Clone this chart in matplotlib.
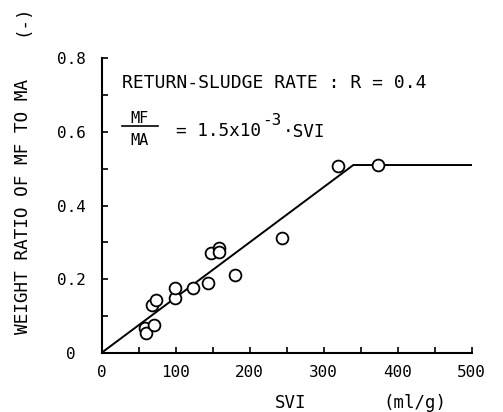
import matplotlib
matplotlib.use('Agg')
import matplotlib.pyplot as plt
import numpy as np

plt.rcParams['font.family'] = ['DejaVu Sans Mono']

# measured points (SVI, MF/MA)
svi = [58, 60, 70, 68, 74, 99, 99, 124, 144, 148, 158, 158, 180, 244, 319, 374]
ratio = [0.066, 0.053, 0.075, 0.130, 0.143, 0.150, 0.175, 0.175, 0.190, 0.272, 0.284, 0.273, 0.211, 0.312, 0.506, 0.511]

# fitted relation MF/MA = 1.5e-3 * SVI, levelling off
slope = 1.5e-3
plateau = 0.51
line_x = [0, plateau / slope, 500]

xticks = [0, 100, 200, 300, 400, 500]
yticks = [0, 0.2, 0.4, 0.6, 0.8]
yticklabels = ['0', '0.2', '0.4', '0.6', '0.8']

fig = plt.figure(figsize=(5.03, 4.12), dpi=100)
ax = fig.add_axes([0.2022, 0.1439, 0.7356, 0.7146])

line_y = [min(slope * v, plateau) for v in line_x]
ax.plot(line_x, line_y, color='black', lw=1.4, zorder=2)
ax.plot(svi, ratio, 'o', mfc='white', mec='black', mew=1.3, ms=8.5, zorder=3, clip_on=False)

ax.set_xlim(0, 500)
ax.set_ylim(0, 0.8)
ax.spines['top'].set_visible(False)
ax.spines['right'].set_visible(False)
for s in ['left', 'bottom']:
    ax.spines[s].set_linewidth(1.5)

ax.set_xticks(xticks)
ax.set_xticks(np.arange(50, 500, 100), minor=True)
ax.set_yticks(yticks)
ax.set_yticklabels(yticklabels)
ax.set_yticks([0.1, 0.3, 0.5, 0.7], minor=True)
ax.tick_params(which='both', direction='in', length=4, width=1.2, labelsize=11.5, color='black')
ax.tick_params(axis='x', pad=9)
ax.tick_params(axis='y', pad=22)
for lab in ax.get_yticklabels():
    lab.set_horizontalalignment('center')

fig.text(0.045, 0.50, 'WEIGHT RATIO OF MF TO MA', rotation=90, ha='center', va='center', fontsize=12.8)
fig.text(0.045, 0.952, '(-)', rotation=90, ha='center', va='center', fontsize=12.5)
fig.text(0.577, 0.022, 'SVI', ha='center', va='center', fontsize=12.5)
fig.text(0.825, 0.022, '(ml/g)', ha='center', va='center', fontsize=12.5)

fig.text(0.243, 0.798, 'RETURN-SLUDGE RATE : R = 0.4', ha='left', va='center', fontsize=13)
fig.text(0.278, 0.713, 'MF', ha='center', va='center', fontsize=11)
fig.text(0.278, 0.660, 'MA', ha='center', va='center', fontsize=11)
fig.add_artist(plt.Line2D([0.243, 0.314], [0.694, 0.694], color='black', lw=1.2))
fig.text(0.350, 0.682, '= 1.5x10', ha='left', va='center', fontsize=12.8)
fig.text(0.521, 0.707, '-3', ha='left', va='center', fontsize=11.5)
fig.text(0.563, 0.680, '\u00b7SVI', ha='left', va='center', fontsize=12.8)

fig.savefig('out.png', dpi=100)
